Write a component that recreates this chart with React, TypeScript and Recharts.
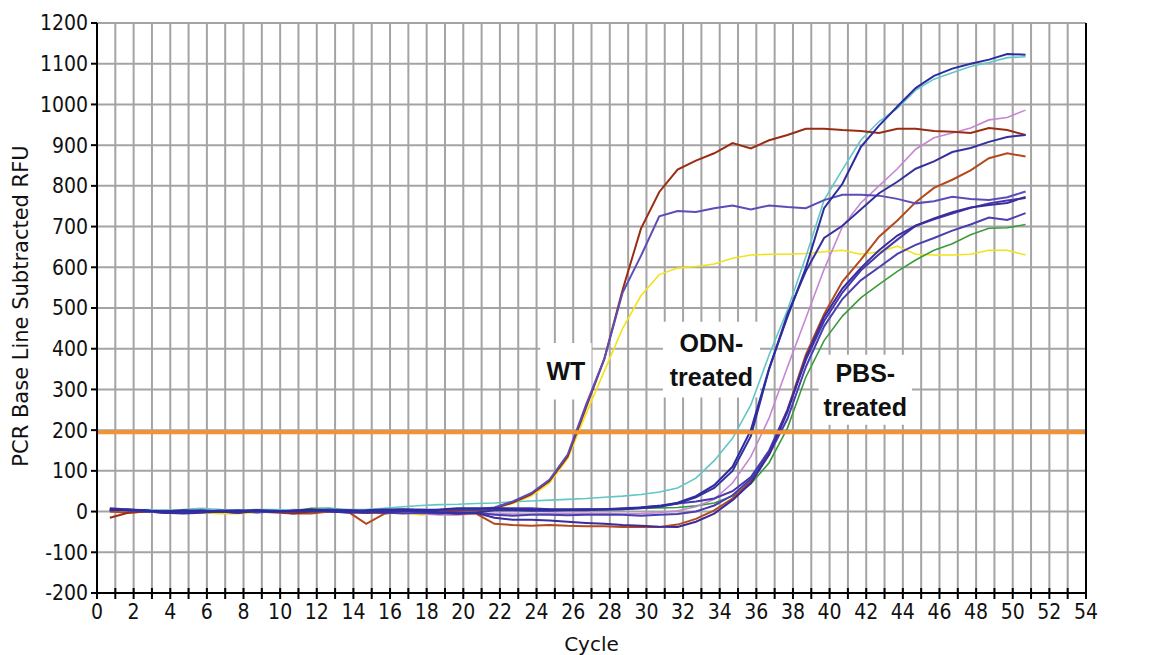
import { LineChart, Line, XAxis, YAxis, CartesianGrid, ReferenceLine, ReferenceArea } from 'recharts';

// cycle positions of the readings
const CYCLES = [
  0.7, 1.7, 2.7, 3.7, 4.7, 5.7, 6.7, 7.7, 8.7, 9.7,
  10.7, 11.7, 12.7, 13.7, 14.7, 15.7, 16.7, 17.7, 18.7, 19.7,
  20.7, 21.7, 22.7, 23.7, 24.7, 25.7, 26.7, 27.7, 28.7, 29.7,
  30.7, 31.7, 32.7, 33.7, 34.7, 35.7, 36.7, 37.7, 38.7, 39.7,
  40.7, 41.7, 42.7, 43.7, 44.7, 45.7, 46.7, 47.7, 48.7, 49.7,
  50.7,
];

const X_TICKS = [
  0, 1, 2, 3, 4, 5, 6, 7, 8, 9, 10, 11, 12, 13, 14, 15, 16, 17, 18, 19, 20, 21, 22, 23, 24, 25, 26, 27,
  28, 29, 30, 31, 32, 33, 34, 35, 36, 37, 38, 39, 40, 41, 42, 43, 44, 45, 46, 47, 48, 49, 50, 51, 52, 53, 54,
];
const Y_TICKS = [-200, -100, 0, 100, 200, 300, 400, 500, 600, 700, 800, 900, 1000, 1100, 1200];
const THRESHOLD = 195;

// WT
const WT_BROWN = [
  -15, -3, 0, -2, 0, 2, 0, -2, 0, 0,
  -5, 0, 2, 0, -3, -2, 0, 2, 0, 2,
  3, 8, 22, 42, 75, 135, 255, 375, 545, 695,
  785, 840, 862, 880, 905, 892, 912, 925, 940, 940,
  937, 935, 930, 940, 940, 935, 933, 930, 942, 937,
  925,
];
const WT_PURPLE = [
  5, 3, 0, -3, 0, 3, 0, -3, 2, 0,
  0, 3, 0, -2, 0, 3, 5, 3, 2, 5,
  5, 10, 25, 45, 78, 140, 262, 375, 538, 628,
  725, 738, 736, 745, 752, 742, 752, 748, 745, 765,
  778, 778, 776, 768, 757, 762, 773, 768, 765, 772,
  786,
];
const WT_YELLOW = [
  0, 2, 0, -2, 0, -3, -5, -5, -2, 0,
  0, 2, 0, 0, -2, 0, -3, -8, -5, -3,
  0, 8, 20, 38, 70, 130, 240, 345, 450, 530,
  582, 598, 602, 608, 622, 630, 632, 632, 634, 638,
  642, 632, 638, 652, 632, 630, 630, 632, 642, 642,
  630,
];

// ODN-treated
const ODN_CYAN = [
  3, 2, 5, 3, 5, 8, 5, 3, 5, 5,
  3, 5, 8, 5, 5, 8, 12, 15, 17, 18,
  20, 21, 24, 26, 28, 30, 32, 35, 38, 42,
  48, 58, 82, 125, 180, 262, 385, 495, 625, 765,
  840, 912, 958, 990, 1035, 1062, 1078, 1093, 1103, 1115,
  1117,
];
const ODN_BLUE1 = [
  5, 3, 2, 0, 3, 2, 0, 2, 3, 0,
  2, 5, 3, 2, 3, 5, 5, 3, 5, 8,
  8, 8, 6, 5, 5, 5, 6, 6, 8, 10,
  14, 22, 38, 65, 110, 200, 352, 478, 598, 745,
  805, 895, 948, 995, 1040, 1070, 1088, 1100, 1110, 1124,
  1122,
];
const ODN_BLUE2 = [
  3, 5, 2, 0, -2, 0, 2, 0, 3, 2,
  0, 0, 2, 3, 0, -2, 2, 0, -3, -5,
  -2, 3, 3, 2, 2, 3, 3, 5, 6, 8,
  12, 20, 35, 58, 100, 185, 350, 485, 590, 672,
  702, 742, 782, 810, 842, 860, 883, 893, 908, 920,
  925,
];
const ODN_PINK = [
  0, 2, 0, -3, 0, 3, 5, 2, 0, 2,
  5, 3, 0, -2, -3, -5, -3, -5, -8, -8,
  -5, -5, -6, -6, -5, -5, -5, -5, -6, -5,
  -3, 2, 12, 30, 70, 135, 230, 355, 475, 595,
  700, 758, 800, 842, 890, 918, 930, 942, 962, 968,
  986,
];

// PBS-treated
const PBS_BROWN = [
  0, -3, 0, 0, -2, 0, 0, -2, 0, -2,
  -5, -5, 0, 0, -30, -5, 0, 2, -3, -5,
  -5, -30, -33, -35, -33, -35, -36, -36, -38, -38,
  -38, -32, -18, 3, 32, 75, 145, 250, 385, 485,
  565, 618, 675, 715, 760, 795, 815, 838, 868, 880,
  872,
];
const PBS_BLUE1 = [
  8, 5, 3, -3, -5, -3, 0, -3, 2, 0,
  2, 3, 0, -2, -3, 0, 2, 3, -2, -5,
  -3, -15, -20, -20, -22, -25, -28, -30, -33, -35,
  -37, -38, -25, -5, 28, 70, 140, 245, 378, 478,
  548, 598, 642, 678, 702, 720, 735, 747, 753, 758,
  773,
];
const PBS_BLUE2 = [
  3, 5, 2, 0, 2, 0, 2, 3, 0, 0,
  2, 3, 2, 0, 2, 3, 5, 5, 3, 5,
  5, 8, 8, 8, 6, 5, 5, 5, 6, 10,
  14, 20, 25, 32, 50, 85, 150, 250, 372, 468,
  538, 592, 632, 668, 702, 718, 732, 746, 757, 764,
  770,
];
const PBS_BLUE3 = [
  5, 3, 0, -3, -2, 0, 2, 0, -2, 0,
  0, 3, 5, 3, 0, -2, -5, -3, -5, -3,
  -2, -8, -10, -8, -8, -9, -8, -8, -8, -10,
  -8, -6, 0, 15, 40, 80, 140, 228, 355, 455,
  522, 568, 600, 633, 655, 672, 690, 705, 722, 716,
  733,
];
const PBS_GREEN = [
  0, 2, 0, 3, 0, 2, 0, 0, -2, 0,
  2, 8, 8, 2, 0, 2, 0, 3, 5, 2,
  3, 5, 5, 5, 5, 5, 5, 5, 6, 8,
  9, 10, 14, 21, 38, 68, 120, 205, 330, 420,
  480, 525, 558, 590, 618, 642, 658, 680, 696, 697,
  705,
];

const data = CYCLES.map((cycle, i) => ({
  cycle,
  wtYellow: WT_YELLOW[i],
  pbsGreen: PBS_GREEN[i],
  odnPink: ODN_PINK[i],
  odnCyan: ODN_CYAN[i],
  pbsBrown: PBS_BROWN[i],
  wtBrown: WT_BROWN[i],
  wtPurple: WT_PURPLE[i],
  pbsBlue3: PBS_BLUE3[i],
  pbsBlue2: PBS_BLUE2[i],
  pbsBlue1: PBS_BLUE1[i],
  odnBlue2: ODN_BLUE2[i],
  odnBlue1: ODN_BLUE1[i],
}));

const series = [
  { key: 'wtYellow', color: '#f2e21c', width: 1.6 },
  { key: 'pbsGreen', color: '#3c9a3c', width: 1.6 },
  { key: 'odnPink', color: '#c586d4', width: 1.6 },
  { key: 'odnCyan', color: '#62c6c6', width: 1.6 },
  { key: 'pbsBrown', color: '#b24a1e', width: 2 },
  { key: 'wtBrown', color: '#9a2c12', width: 2 },
  { key: 'wtPurple', color: '#5b4cb8', width: 2 },
  { key: 'pbsBlue3', color: '#4a3fb0', width: 2 },
  { key: 'pbsBlue2', color: '#4438ae', width: 2 },
  { key: 'pbsBlue1', color: '#3a2c9c', width: 2 },
  { key: 'odnBlue2', color: '#35309e', width: 2 },
  { key: 'odnBlue1', color: '#2c2ca0', width: 2 },
];

const TICK_FONT = "'DejaVu Sans Condensed', 'DejaVu Sans', sans-serif";
const TITLE_FONT = "'DejaVu Sans', sans-serif";
const NOTE_FONT = "'Liberation Sans', Arial, sans-serif";

// bottom axis: tick every cycle, label every second one
const CycleTick = (props: any) => {
  const { x, y, payload } = props;
  const axisY = y - 8;
  const v = payload.value;
  return (
    <g>
      <line x1={x} x2={x} y1={axisY - 5} y2={axisY + 6} stroke="#000" strokeWidth={2} />
      {v % 2 === 0 && (
        <text x={x} y={axisY + 26} textAnchor="middle" fontSize={21} fontFamily={TICK_FONT} fill="#111">
          {v}
        </text>
      )}
    </g>
  );
};

const boxLabel = (lines: string[]) => (props: any) => {
  const vb = props.viewBox;
  if (!vb) return null;
  const cx = vb.x + vb.width / 2;
  const cy = vb.y + vb.height / 2;
  const step = 34;
  const top = cy - ((lines.length - 1) * step) / 2;
  return (
    <text textAnchor="middle" fontSize={25} fontWeight="bold" fontFamily={NOTE_FONT} fill="#111">
      {lines.map((l, k) => (
        <tspan key={k} x={cx} y={top + k * step + 9}>
          {l}
        </tspan>
      ))}
    </text>
  );
};

const YTitle = (props: any) => {
  const vb = props.viewBox;
  if (!vb) return null;
  const cx = 21;
  const cy = vb.y + vb.height / 2 - 2;
  return (
    <text
      x={cx}
      y={cy}
      transform={`rotate(-90 ${cx} ${cy})`}
      textAnchor="middle"
      dominantBaseline="central"
      fontSize={21}
      fontFamily={TITLE_FONT}
      fill="#111"
    >
      PCR Base Line Subtracted RFU
    </text>
  );
};

export default function App() {
  return (
    <div style={{ position: 'absolute', left: 0, top: 0, width: 1153, height: 655, background: '#fff' }}>
      <LineChart width={1153} height={655} data={data} margin={{ top: 23, right: 0, bottom: 0, left: 0 }}>
        <CartesianGrid stroke="#a4a4a4" strokeWidth={2} yAxisId="left" />
        <XAxis
          dataKey="cycle"
          type="number"
          domain={[0, 54]}
          ticks={X_TICKS}
          interval={0}
          height={62}
          tickSize={6}
          tickMargin={2}
          tickLine={false}
          axisLine={{ stroke: '#000', strokeWidth: 2 }}
          tick={<CycleTick />}
          label={{ value: 'Cycle', position: 'insideBottom', offset: 4, fontSize: 20, fontFamily: TITLE_FONT, fill: '#111' }}
        />
        <YAxis
          yAxisId="left"
          domain={[-200, 1200]}
          ticks={Y_TICKS}
          interval={0}
          width={97}
          tickSize={6}
          tickMargin={3}
          tickLine={{ stroke: '#000', strokeWidth: 2 }}
          axisLine={{ stroke: '#000', strokeWidth: 2 }}
          tick={{ fontSize: 21, fontFamily: TICK_FONT, fill: '#111' }}
          label={<YTitle />}
        />
        <YAxis
          yAxisId="right"
          orientation="right"
          domain={[-200, 1200]}
          ticks={Y_TICKS}
          interval={0}
          width={67}
          tickSize={6}
          tickMargin={3}
          tickLine={{ stroke: '#000', strokeWidth: 2 }}
          axisLine={{ stroke: '#000', strokeWidth: 2 }}
          tick={{ fontSize: 21, fontFamily: TICK_FONT, fill: '#111' }}
        />
        <ReferenceArea yAxisId="left" x1={24.2} x2={27.0} y1={275} y2={414} fill="#fff" fillOpacity={1} stroke="none" label={boxLabel(['WT'])} />
        <ReferenceArea yAxisId="left" x1={30.9} x2={36.2} y1={280} y2={466} fill="#fff" fillOpacity={1} stroke="none" label={boxLabel(['ODN-', 'treated'])} />
        <ReferenceArea yAxisId="left" x1={39.4} x2={44.5} y1={213} y2={385} fill="#fff" fillOpacity={1} stroke="none" label={boxLabel(['PBS-', 'treated'])} />
        {series.map((s) => (
          <Line
            key={s.key}
            yAxisId="left"
            type="linear"
            dataKey={s.key}
            stroke={s.color}
            strokeWidth={s.width}
            dot={false}
            activeDot={false}
            isAnimationActive={false}
          />
        ))}
        <ReferenceLine yAxisId="left" y={THRESHOLD} stroke="#f39233" strokeWidth={4} />
      </LineChart>
    </div>
  );
}
